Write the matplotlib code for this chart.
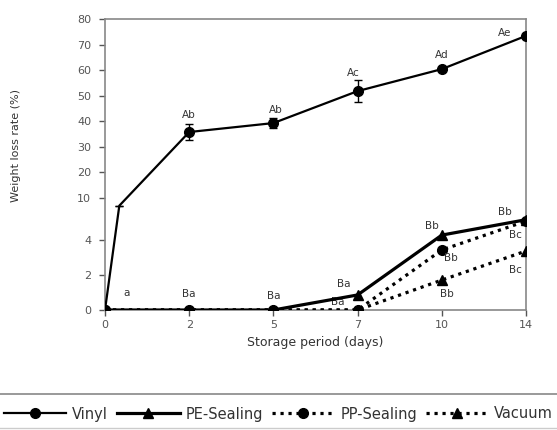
import numpy as np
import matplotlib
matplotlib.use("Agg")
import matplotlib.pyplot as plt
from matplotlib.lines import Line2D

days = ["0", "2", "5", "7", "10", "14"]
vinyl_pos = [0, 0.17, 1, 2, 3, 4, 5]
vinyl = [0, 8.9, 35.8, 39.3, 51.8, 60.4, 73.4]
vinyl_err = [0, 0, 3, 2, 4.3, 0, 0]
pe = [0, 0, 0, 0.86, 4.7, 6.9]
pp = [0, 0, 0, 0, 3.43, 6.7]
vacuum = [0, 0, 0, 0, 1.71, 3.37]
yticks = [0, 2, 4, 10, 20, 30, 40, 50, 60, 70, 80]

# annotations: (text, x index, y value, dx px, dy px)
labels = [
    ("a", 0, 0, 22, 17),
    ("Ba", 1, 0, 0, 16), ("Ba", 2, 0, 0, 14),
    ("Ba", 3, 0.86, -14, 11), ("Ba", 3, 0, -20, 8),
    ("Ab", 1, 35.8, 0, 17), ("Ab", 2, 39.3, 2, 13), ("Ac", 3, 51.8, -4, 18),
    ("Ad", 4, 60.4, 0, 14), ("Ae", 5, 73.4, -21, 3),
    ("Bb", 4, 4.7, -10, 9), ("Bb", 4, 3.43, 9, -8), ("Bb", 4, 1.71, 5, -14),
    ("Bb", 5, 6.9, -21, 8), ("Bc", 5, 6.7, -11, -14), ("Bc", 5, 3.37, -11, -19),
]

nodes_v = [0, 4, 10, 80]
nodes_p = [0, 70, 112, 291]

def fwd(y):
    y = np.asarray(y, float)
    return np.interp(y, nodes_v, nodes_p)

def inv(p):
    p = np.asarray(p, float)
    return np.interp(p, nodes_p, nodes_v)

fig = plt.figure(figsize=(5.57, 4.30), dpi=100)
ax = fig.add_axes([105/557, 1-310/430, (526-105)/557, (310-19)/430])
ax.set_yscale("function", functions=(fwd, inv))

x = np.arange(len(days))
gray = "#555555"
dot = (0, (1, 1.5))
ax.errorbar(vinyl_pos, vinyl, yerr=vinyl_err, color="black", lw=1.6, marker="o",
            ms=7, markevery=[0, 2, 3, 4, 5, 6], capsize=3, elinewidth=1, zorder=5)
ax.plot(x, pe, color="black", lw=2.3, marker="^", ms=7, zorder=4)
ax.plot(x, pp, color="black", lw=2.3, ls=dot, marker="o", ms=7, zorder=3)
ax.plot(x, vacuum, color="black", lw=2.3, ls=dot, marker="^", ms=7, zorder=3)

for t, xi, yv, dx, dy in labels:
    ax.annotate(t, xy=(xi, yv), xytext=(dx*0.72, dy*0.72), textcoords="offset points",
                ha="center", va="center", fontsize=7.5, color="#333333")

ax.set_xlim(0, 5)
ax.set_ylim(0, 80)
ax.set_xticks(x)
ax.set_xticklabels(days)
ax.set_yticks(yticks)
ax.set_yticklabels([str(v) for v in yticks])
ax.tick_params(colors=gray, labelsize=8, length=4, width=1, direction="out")
ax.tick_params(axis="y", pad=6)
for s in ax.spines.values():
    s.set_color("#888888")
    s.set_linewidth(1.2)
    s.set_clip_on(False)
ax.set_xlabel("Storage period (days)", fontsize=9, color="#333333", labelpad=4)
ax.set_ylabel("Weight loss rate (%)", fontsize=8, color="#333333")
ax.yaxis.set_label_coords(-0.2, 0.564)

handles = [
    Line2D([], [], color="black", lw=1.6, marker="o", ms=7),
    Line2D([], [], color="black", lw=2.3, marker="^", ms=7),
    Line2D([], [], color="black", lw=2.3, ls=dot, marker="o", ms=7),
    Line2D([], [], color="black", lw=2.3, ls=dot, marker="^", ms=7),
]
names = ["Vinyl", "PE-Sealing", "PP-Sealing", "Vacuum"]
fig.legend(handles, names, loc="center", bbox_to_anchor=(0.5, 1-414/430), ncol=4,
           frameon=False, fontsize=10.5, handlelength=4.3, columnspacing=0.6,
           handletextpad=0.4, labelcolor="#333333", borderaxespad=0, borderpad=0)
fig.add_artist(Line2D([0, 1], [1-394/430, 1-394/430], color="#888888", lw=1.2))
fig.add_artist(Line2D([0, 1], [1-428/430, 1-428/430], color="#cccccc", lw=1))

fig.savefig("out.png", dpi=100)
